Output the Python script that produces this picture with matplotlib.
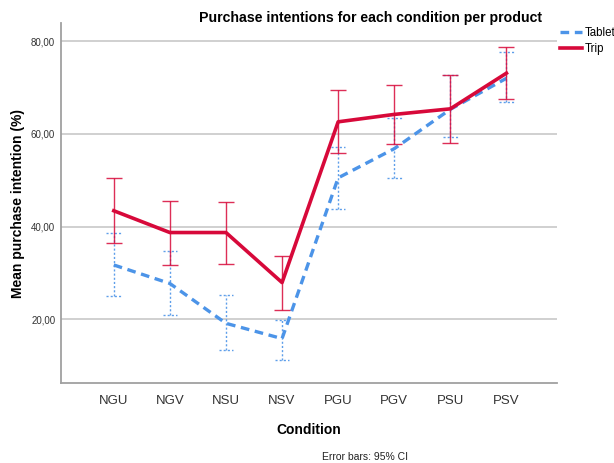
import numpy as np
import matplotlib
matplotlib.use("Agg")
import matplotlib.pyplot as plt

plt.rcParams["font.family"] = ["Liberation Sans", "DejaVu Sans"]

conditions = ["NGU", "NGV", "NSU", "NSV", "PGU", "PGV", "PSU", "PSV"]

# means and 95% CI bounds
tablet_mean = [31.7, 27.7, 19.1, 15.8, 50.5, 56.8, 65.3, 72.0]
tablet_low = [25.0, 21.0, 13.3, 11.2, 43.7, 50.4, 59.3, 66.9]
tablet_high = [38.6, 34.7, 25.3, 19.9, 57.1, 63.4, 72.6, 77.6]

trip_mean = [43.4, 38.7, 38.7, 27.9, 62.6, 64.2, 65.4, 73.1]
trip_low = [36.4, 31.6, 32.0, 21.9, 55.8, 57.8, 58.0, 67.5]
trip_high = [50.4, 45.5, 45.2, 33.7, 69.4, 70.5, 72.8, 78.8]

blue = "#4C94E8"
red = "#D7093A"

fig = plt.figure(figsize=(6.14, 4.63), dpi=100)
ax = fig.add_axes([0.099, 0.173, 0.808, 0.777])

x = np.arange(len(conditions))

ax.set_ylim(6.24, 83.9)
ax.set_xlim(-0.945, 7.9)
for g in [20, 40, 60, 80]:
    ax.axhline(g, color="#C8C8C8", lw=1.2, zorder=0)

# tablet: dotted CI bars
dot = (0, (1.5, 1.5))
cw = 0.13
tm = np.array(tablet_mean)
for xi, lo, hi in zip(x, tablet_low, tablet_high):
    ax.plot([xi, xi], [lo, hi], color=blue, lw=1.0, ls=dot, alpha=0.9, zorder=2)
    ax.plot([xi - cw, xi + cw], [lo, lo], color=blue, lw=1.0, ls=dot, alpha=0.9, zorder=2)
    ax.plot([xi - cw, xi + cw], [hi, hi], color=blue, lw=1.0, ls=dot, alpha=0.9, zorder=2)
ax.plot(x, tm, color=blue, lw=2.4, ls=(0, (2.6, 1.7)), label="Tablet", zorder=3)

# trip
rm = np.array(trip_mean)
ax.errorbar(x, rm, yerr=[rm - np.array(trip_low), np.array(trip_high) - rm],
            fmt="none", ecolor=red, elinewidth=1.0, capsize=5.5, capthick=1.0,
            alpha=0.85, zorder=4)
ax.plot(x, rm, color=red, lw=2.6, label="Trip", zorder=5)

ax.set_xticks(x)
ax.set_xticklabels(conditions, fontsize=9.5, color="#333333")
ax.set_yticks([20, 40, 60, 80])
ax.set_yticklabels(["20,00", "40,00", "60,00", "80,00"], fontsize=7, color="#333333")
ax.tick_params(axis="both", length=0)
ax.tick_params(axis="y", pad=4)
ax.tick_params(axis="x", pad=9)

for s in ["top", "right"]:
    ax.spines[s].set_visible(False)
for s in ["left", "bottom"]:
    ax.spines[s].set_color("#A0A0A0")
    ax.spines[s].set_linewidth(1.3)

ax.set_xlabel("Condition", fontsize=10, fontweight="bold", labelpad=11)
ax.set_ylabel("Mean purchase intention (%)", fontsize=10, fontweight="bold", labelpad=4)

fig.text(0.883, 0.962, "Purchase intentions for each condition per product",
         ha="right", va="center", fontsize=10.2, fontweight="bold")
fig.text(0.524, 0.013, "Error bars: 95% CI", ha="left", va="center", fontsize=7.5, color="#222222")

fig.legend(loc="upper left", bbox_to_anchor=(0.905, 0.952), frameon=False,
           fontsize=8.3, handlelength=1.9, handletextpad=0.25, borderaxespad=0,
           labelspacing=0.35)

fig.savefig("out.png", dpi=100)
